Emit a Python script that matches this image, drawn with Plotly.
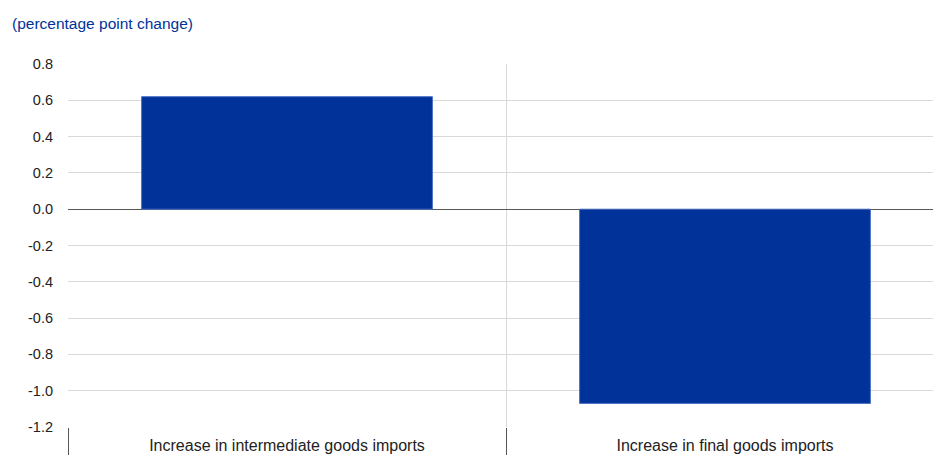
import plotly.graph_objects as go

categories = ["Increase in intermediate goods imports", "Increase in final goods imports"]
values = [0.62, -1.07]
y_ticks = [0.8, 0.6, 0.4, 0.2, 0.0, -0.2, -0.4, -0.6, -0.8, -1.0, -1.2]
y_labels = ["0.8", "0.6", "0.4", "0.2", "0.0", "-0.2", "-0.4", "-0.6", "-0.8", "-1.0", "-1.2"]
title_text = "(percentage point change)"

fig = go.Figure()
fig.add_trace(go.Bar(
    x=categories, y=values, width=0.664,
    marker=dict(color="#003299", line=dict(color="#4d70c4", width=1)),
    showlegend=False,
))

fig.update_layout(
    width=933, height=455,
    margin=dict(l=68, r=0, t=64, b=28),
    plot_bgcolor="white", paper_bgcolor="white",
    font=dict(family="Arial, Liberation Sans, sans-serif", size=14, color="#333333"),
    annotations=[dict(
        text=title_text, xref="paper", yref="paper", x=(10 - 68) / 865, y=1,
        xanchor="left", yanchor="middle", yshift=64 - 23, showarrow=False,
        font=dict(color="#003299", size=15.5, family="Arial, Liberation Sans, sans-serif"),
    )],
)
fig.update_xaxes(
    type="category", range=[-0.5, -0.5 + 865 / 438],
    tickson="boundaries", ticks="outside", ticklen=28, tickcolor="#555555", tickwidth=1,
    showgrid=True, gridcolor="#d9d9d9", gridwidth=1,
    showline=False, zeroline=False,
    tickfont=dict(family="Arial, Liberation Sans, sans-serif", size=16, color="#222222"),
    ticklabelstandoff=7,
)
fig.update_yaxes(
    range=[-1.2, 0.8], tickvals=y_ticks, ticktext=y_labels,
    showgrid=True, gridcolor="#d9d9d9", gridwidth=1,
    zeroline=True, zerolinecolor="#595959", zerolinewidth=1,
    showline=False, ticks="", ticklabelstandoff=14,
    tickfont=dict(size=14.5, color="#222222"),
)

fig.write_html(
    "out.html",
    config={"displayModeBar": False},
    post_script="document.body.style.margin='0';document.body.style.overflow='hidden';",
)
